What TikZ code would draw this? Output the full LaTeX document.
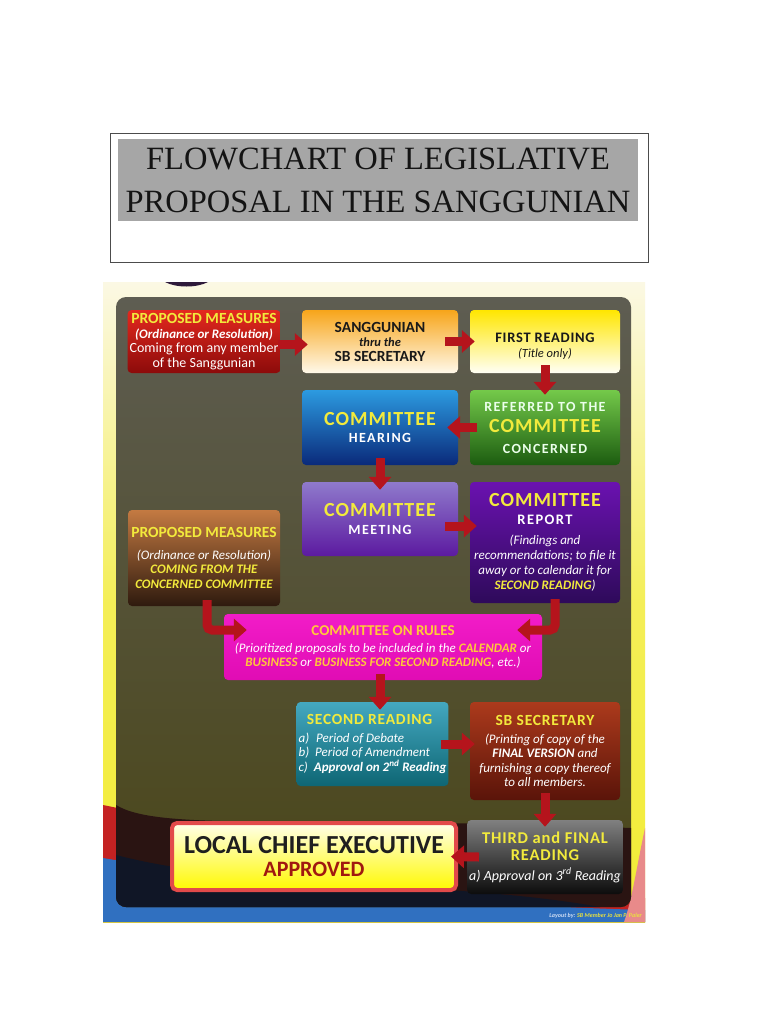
\documentclass[tikz,border=0pt]{standalone}
\usepackage{fontspec}
\setmainfont{Carlito}
\newfontfamily\titlefont{Liberation Serif}
\newfontfamily\spc[LetterSpace=5]{Carlito}
\newfontfamily\spcw[LetterSpace=10]{Carlito}
\usetikzlibrary{arrows.meta,calc}
\newcommand\fz[2]{\fontsize{#1}{#2}\selectfont}
\definecolor{titlegray}{HTML}{A6A6A6}
\definecolor{ytxt}{HTML}{F2EA3C}
\definecolor{otxt}{HTML}{FFC83A}
\definecolor{arr}{HTML}{B5141C}
\definecolor{cream}{HTML}{FBF8E4}
\definecolor{posteryel}{HTML}{F2EC34}
\definecolor{panelA}{HTML}{5E5D52}
\definecolor{panelB}{HTML}{4A4618}
\definecolor{wavered}{HTML}{C42222}
\definecolor{waveblue}{HTML}{3070C0}
\definecolor{wavepink}{HTML}{E88A8A}
\definecolor{darkmaroon}{HTML}{2A1412}
\definecolor{darknavy}{HTML}{101626}
\definecolor{footblue}{HTML}{D0DEF4}
\definecolor{footyel}{HTML}{E8E040}
\definecolor{lceRed}{HTML}{E24A4A}
\definecolor{apprRed}{HTML}{A01810}
\definecolor{arcdark}{HTML}{2E1A3A}
% box colours
\definecolor{pmAt}{HTML}{E4291F}\definecolor{pmAb}{HTML}{8C0B0A}
\definecolor{sgt}{HTML}{F7A51A}\definecolor{sgm}{HTML}{FCD79A}\definecolor{sgb}{HTML}{FFF9EA}
\definecolor{frt}{HTML}{FFE600}\definecolor{frm}{HTML}{FFF59A}\definecolor{frb}{HTML}{FFFFF5}
\definecolor{hrt}{HTML}{2C9AE0}\definecolor{hrm}{HTML}{1560B8}\definecolor{hrb}{HTML}{0A2A7A}
\definecolor{rft}{HTML}{74C94A}\definecolor{rfm}{HTML}{3C9A28}\definecolor{rfb}{HTML}{1C5C10}
\definecolor{mtt}{HTML}{8F7ACC}\definecolor{mtb}{HTML}{5C1AA0}
\definecolor{rpt}{HTML}{6A12B0}\definecolor{rpb}{HTML}{2E0A5A}
\definecolor{pmBt}{HTML}{C47A42}\definecolor{pmBb}{HTML}{2E1A0E}
\definecolor{rut}{HTML}{F21CC8}\definecolor{rub}{HTML}{E00CB4}
\definecolor{sct}{HTML}{44A8C0}\definecolor{scb}{HTML}{0E6674}
\definecolor{sbt}{HTML}{AC3A1C}\definecolor{sbb}{HTML}{5A1409}
\definecolor{tht}{HTML}{808080}\definecolor{thb}{HTML}{0C0C0C}
\begin{document}
\begin{tikzpicture}[x=1pt,y=-1pt,
  box/.style={rounded corners=4pt, align=center, inner sep=2pt, text=white, font=\fz{13}{14.5}},
  bigarrow/.style={draw=arr, line width=9pt, -{Triangle[length=13pt,width=22pt]}, line join=miter},
  elbow/.style={bigarrow, rounded corners=5pt}
]
\useasboundingbox (0,0) rectangle (768,1024);
\fill[white] (0,0) rectangle (768,1024);

% title
\draw[draw=black!70, line width=1pt] (110,134) rectangle (648,262);
\node[fill=titlegray, minimum width=520pt, minimum height=82pt, inner sep=0pt, align=center,
      text=black!92, font=\titlefont\fz{32.5}{43}] (title) at (378,180.5)
      {FLOWCHART OF LEGISLATIVE\\PROPOSAL IN THE SANGGUNIAN};

% poster background
\shade[top color=cream, bottom color=posteryel, middle color=posteryel!80!cream] (103,282) rectangle (645,922);
\fill[wavered] (103,805) .. controls (250,835) and (420,880) .. (645,898) -- (645,922) -- (103,922) -- cycle;
\fill[waveblue] (103,858) .. controls (260,885) and (460,905) .. (645,910) -- (645,922) -- (103,922) -- cycle;
\fill[wavepink] (645,828) .. controls (636,870) and (632,900) .. (624,922) -- (645,922) -- cycle;
\fill[arcdark] (165,282) .. controls (176,288) and (197,288) .. (208,282) -- cycle;

% panel
\begin{scope}
\clip[rounded corners=10pt] (116,297) rectangle (631,907);
\shade[top color=panelA, bottom color=panelB] (116,297) rectangle (631,907);
\fill[darkmaroon] (116,805) .. controls (160,832) and (300,815) .. (631,828) -- (631,907) -- (116,907) -- cycle;
\fill[darknavy] (116,855) .. controls (250,890) and (450,880) .. (600,907) -- (116,907) -- cycle;
\end{scope}

% boxes
\node[box, minimum width=152pt, minimum height=63pt, top color=pmAt, bottom color=pmAb] (pm1) at (204,341.5)
 {{\bfseries\color{ytxt}\fz{15.5}{17}PROPOSED MEASURES}\\
  {\bfseries\itshape (Ordinance or Resolution)}\\
  {\fz{14}{15}Coming from any member}\\
  {\fz{14}{15}of the Sanggunian}};

\node[box, text=black!90, minimum width=156pt, minimum height=63pt, top color=sgt, middle color=sgm, bottom color=sgb] (sang) at (380,341.5)
 {{\bfseries\fz{15.5}{17}SANGGUNIAN}\\
  {\bfseries\itshape\fz{12.5}{13}thru the}\\
  {\bfseries\fz{15.5}{17}SB SECRETARY}};

\node[box, text=black!90, minimum width=150pt, minimum height=63pt, top color=frt, middle color=frm, bottom color=frb] (first) at (545,341.5)
 {{\rule{0pt}{19pt}\spc\bfseries\fz{14.5}{16}FIRST READING}\\[1pt]
  {\itshape\fz{12.5}{14}(Title only)}};

\node[box, minimum width=156pt, minimum height=75pt, top color=hrt, middle color=hrm, bottom color=hrb] (hear) at (380,427.5)
 {{\spc\bfseries\color{ytxt}\fz{20}{22}COMMITTEE}\\[2pt]
  {\spcw\bfseries\fz{14}{16}HEARING}};

\node[box, text=white!92!green, minimum width=150pt, minimum height=75pt, top color=rft, middle color=rfm, bottom color=rfb] (refer) at (545,427.5)
 {{\spcw\bfseries\fz{14}{16}REFERRED TO THE}\\[7pt]
  {\spc\bfseries\color{ytxt}\fz{20}{22}COMMITTEE}\\[6pt]
  {\spcw\bfseries\fz{14}{16}CONCERNED}};

\node[box, minimum width=156pt, minimum height=74pt, top color=mtt, bottom color=mtb] (meet) at (380,519)
 {{\spc\bfseries\color{ytxt}\fz{20}{22}COMMITTEE}\\[3pt]
  {\spcw\bfseries\fz{14}{16}MEETING}};

\node[box, minimum width=150pt, minimum height=121pt, top color=rpt, bottom color=rpb] (report) at (545,542.5)
 {{\spc\bfseries\color{ytxt}\fz{20}{22}COMMITTEE}\\[3pt]
  {\spcw\bfseries\fz{14.5}{16}REPORT}\\[6pt]
  {\itshape (Findings and}\\[0.5pt]
  {\itshape recommendations; to file it}\\[0.5pt]
  {\itshape away or to calendar it for}\\[0.5pt]
  {\bfseries\itshape\color{ytxt}SECOND READING}{\itshape )}};

\node[box, minimum width=152pt, minimum height=96pt, top color=pmBt, bottom color=pmBb] (pm2) at (204,558)
 {{\bfseries\color{ytxt}\fz{15.5}{17}PROPOSED MEASURES}\\[7pt]
  {\itshape (Ordinance or Resolution)}\\
  {\bfseries\itshape\color{ytxt}COMING FROM THE}\\
  {\bfseries\itshape\color{ytxt}CONCERNED COMMITTEE}};

\node[box, minimum width=318pt, minimum height=66pt, top color=rut, bottom color=rub, font=\fz{13}{14.5}] (rules) at (383,647)
 {{\bfseries\color{otxt}\fz{15}{17}COMMITTEE ON RULES}\\[2pt]
  {\itshape (Prioritized proposals to be included in the {\bfseries\color{otxt}CALENDAR} or}\\
  {\itshape {\bfseries\color{otxt}BUSINESS} or {\bfseries\color{otxt}BUSINESS FOR SECOND READING}, etc.)}};

\node[box, align=left, minimum width=150pt, minimum height=84pt, top color=sct, bottom color=scb] (second) at (372.5,744)
 {\makebox[142pt][c]{\spc\bfseries\color{ytxt}\fz{15.5}{17}SECOND READING}\\[3pt]
  {\itshape a)\hspace{7pt}Period of Debate}\\
  {\itshape b)\hspace{6pt}Period of Amendment}\\
  {\itshape c)\hspace{6pt}{\bfseries Approval on 2\textsuperscript{nd} Reading}}};

\node[box, minimum width=150pt, minimum height=98pt, top color=sbt, bottom color=sbb] (sbsec) at (545,751)
 {{\spc\bfseries\color{ytxt}\fz{15.5}{17}SB SECRETARY}\\[3pt]
  {\itshape (Printing of copy of the}\\
  {\itshape\bfseries FINAL VERSION}{\itshape\ and}\\
  {\itshape furnishing a copy thereof}\\
  {\itshape to all members.}};

\node[box, minimum width=150pt, minimum height=74pt, top color=tht, bottom color=thb] (third) at (545,857)
 {{\spc\bfseries\color{ytxt}\fz{16.5}{18}THIRD and FINAL}\\[3pt]
  {\spc\bfseries\color{ytxt}\fz{16.5}{18}READING}\\[5pt]
  {\itshape\fz{14}{15}a) Approval on 3\textsuperscript{rd} Reading}};

\node[draw=lceRed, line width=4pt, rounded corners=5pt, top color=yellow!8!white, bottom color=yellow!95!orange,
      minimum width=284pt, minimum height=67pt, align=center, inner sep=1pt, font=\fz{26}{23}] (lce) at (314,856.5)
 {{\bfseries\color{black!88}LOCAL CHIEF EXECUTIVE}\\
  {\bfseries\color{apprRed}\fz{22}{22}APPROVED}};

\node[anchor=east, inner sep=0pt, font=\bfseries\itshape\fz{6}{7}] (footer) at (642,916)
 {{\color{footblue}Layout by:} {\color{footyel}SB Member Jo Jan P. Paler}};

% arrows
\coordinate (c910) at (rules.south -| 380,0);
\coordinate (c1011) at (second.east -| sbsec.west);
\draw[bigarrow] ([xshift=-3pt,yshift=-3pt]pm1.east) -- ([xshift=6pt,yshift=-3pt]pm1.east -| sang.west);
\draw[bigarrow] ([xshift=-13pt]sang.east) -- ([xshift=5pt]sang.east -| first.west);
\draw[bigarrow] ([yshift=8pt]first.south) -- ([yshift=-5pt]refer.north);
\draw[bigarrow] ([xshift=7pt]refer.west) -- ([xshift=-11pt]hear.east);
\draw[bigarrow] ([yshift=7pt]hear.south) -- ([yshift=-8pt]meet.north);
\draw[bigarrow] ([xshift=-13pt,yshift=-7pt]meet.east) -- ([xshift=7pt,yshift=-7pt]meet.east -| report.west);
\draw[elbow] ([xshift=3pt,yshift=6pt]pm2.south) |- ([xshift=23pt,yshift=17pt]rules.west);
\draw[elbow] ([xshift=10pt,yshift=4pt]report.south) |- ([xshift=-25pt,yshift=17pt]rules.east);
\draw[bigarrow] ([yshift=6pt]c910) -- ($(c910 |- second.north)+(0,8)$);
\draw[bigarrow] ([xshift=-8pt]second.east) -- ([xshift=5pt]c1011);
\draw[bigarrow] ([yshift=7pt]sbsec.south) -- ([yshift=-7pt]third.north);
\draw[bigarrow] ([xshift=12pt]third.west) -- ([xshift=-7pt]lce.east);
\end{tikzpicture}
\end{document}
